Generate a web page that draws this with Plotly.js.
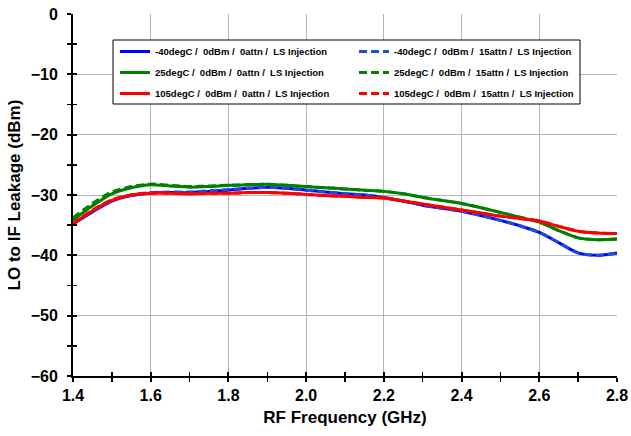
<!DOCTYPE html>
<html><head><meta charset="utf-8">
<script src="https://cdn.plot.ly/plotly-3.0.1.min.js"></script>
<style>html,body{margin:0;padding:0;background:#fff}#chart{width:631px;height:436px}</style>
</head><body><div id="chart"></div>
<script>
const freq = [1.40,1.45,1.50,1.55,1.60,1.65,1.70,1.75,1.80,1.85,1.90,1.95,2.00,2.05,2.10,2.15,2.20,2.25,2.30,2.35,2.40,2.45,2.50,2.55,2.60,2.65,2.70,2.75,2.80];
const blue0  = [-34.8,-32.8,-31.0,-30.1,-29.7,-29.6,-29.6,-29.4,-29.2,-28.9,-28.7,-28.9,-29.2,-29.5,-29.8,-30.0,-30.4,-31.0,-31.7,-32.2,-32.7,-33.4,-34.2,-35.1,-36.2,-37.9,-39.6,-40.0,-39.6];
const blue15 = [-34.7,-32.7,-30.9,-30.0,-29.6,-29.5,-29.5,-29.3,-29.1,-28.9,-28.7,-28.9,-29.2,-29.5,-29.8,-30.0,-30.4,-31.0,-31.7,-32.2,-32.7,-33.4,-34.2,-35.1,-36.2,-37.9,-39.6,-40.0,-39.6];
const green0  = [-34.2,-31.8,-29.8,-28.8,-28.3,-28.5,-28.7,-28.6,-28.4,-28.3,-28.2,-28.4,-28.6,-28.8,-29.0,-29.2,-29.4,-29.8,-30.4,-30.9,-31.4,-32.1,-32.9,-33.7,-34.5,-35.9,-37.1,-37.4,-37.3];
const green15 = [-33.8,-31.4,-29.5,-28.6,-28.2,-28.4,-28.6,-28.5,-28.4,-28.3,-28.2,-28.4,-28.6,-28.8,-29.0,-29.2,-29.4,-29.8,-30.4,-30.9,-31.4,-32.1,-32.9,-33.7,-34.5,-35.9,-37.1,-37.4,-37.3];
const red0  = [-34.8,-32.6,-30.9,-30.0,-29.7,-29.7,-29.8,-29.7,-29.7,-29.6,-29.6,-29.7,-29.9,-30.1,-30.2,-30.4,-30.5,-31.0,-31.5,-32.0,-32.5,-33.0,-33.5,-33.9,-34.3,-35.2,-36.0,-36.3,-36.4];
const red15 = [-34.7,-32.5,-30.8,-30.0,-29.7,-29.7,-29.8,-29.7,-29.7,-29.6,-29.6,-29.7,-29.9,-30.1,-30.2,-30.4,-30.5,-31.0,-31.5,-32.0,-32.5,-33.0,-33.5,-33.9,-34.3,-35.2,-36.0,-36.3,-36.4];
const names = [
  "-40degC /\u00a0 0dBm /\u00a0 0attn /\u00a0 LS Injection",
  "-40degC /\u00a0 0dBm /\u00a0 15attn /\u00a0 LS Injection",
  "25degC /\u00a0 0dBm /\u00a0 0attn /\u00a0 LS Injection",
  "25degC /\u00a0 0dBm /\u00a0 15attn /\u00a0 LS Injection",
  "105degC /\u00a0 0dBm /\u00a0 0attn /\u00a0 LS Injection",
  "105degC /\u00a0 0dBm /\u00a0 15attn /\u00a0 LS Injection"
];
const series = [blue0, blue15, green0, green15, red0, red15];
const colors = ["#0000ff","#1a4fd8","#008000","#008000","#ff0000","#ff0000"];
const dashes = ["solid","8px,4px","solid","8px,4px","solid","8px,4px"];
const legendOf = ["legend","legend2","legend","legend2","legend","legend2"];
const xTickVals = [1.4,1.6,1.8,2.0,2.2,2.4,2.6,2.8];
const yTickVals = [0,-10,-20,-30,-40,-50,-60];

const traces = series.map((s,i)=>({
  x: freq, y: s, name: names[i], type: 'scatter', mode: 'lines',
  legend: legendOf[i], legendgroup: 'g'+i,
  line: {color: colors[i], width: 3, dash: dashes[i], shape: 'spline', smoothing: 0.8}
}));
// invisible companion trace so the overlay axes (inner half of the crossing ticks) are drawn
traces.push({x: freq, y: blue0, xaxis:'x2', yaxis:'y2', mode:'lines', line:{width:0, color:'rgba(0,0,0,0)'}, showlegend:false, hoverinfo:'skip'});

const F = "Liberation Sans, Arial, sans-serif";
const legFont = {family: F, size: 9.5, weight: 'bold', color: '#000'};
const layout = {
  width: 631, height: 436,
  margin: {l: 73, r: 14, t: 14, b: 60},
  paper_bgcolor: '#fff', plot_bgcolor: '#fff',
  font: {family: F, color: '#000', weight: 'bold'},
  showlegend: true,
  legend: {x: (115-73)/544, y: 1-(37-14)/362, xanchor: 'left', yanchor: 'top',
    bgcolor: 'rgba(0,0,0,0)', borderwidth: 0, traceorder: 'grouped', tracegroupgap: 2, font: legFont},
  legend2: {x: (354-73)/544, y: 1-(37-14)/362, xanchor: 'left', yanchor: 'top',
    bgcolor: 'rgba(0,0,0,0)', borderwidth: 0, traceorder: 'grouped', tracegroupgap: 2, font: legFont},
  shapes: [{type: 'rect', xref: 'paper', yref: 'paper', layer: 'above',
    x0: (113-73)/544, x1: (580-73)/544, y0: 1-(104-14)/362, y1: 1-(40-14)/362,
    fillcolor: '#fff', line: {color: '#000', width: 1}}],
  xaxis: {
    range: [1.4, 2.8], tickvals: xTickVals, ticktext: xTickVals.map(v=>v.toFixed(1)),
    showgrid: true, gridcolor: '#b4b4b4', gridwidth: 1,
    showline: true, linecolor: '#000', linewidth: 2,
    ticks: 'outside', ticklen: 4, tickwidth: 2, tickcolor: '#000',
    minor: {dtick: 0.1, tick0: 1.4, ticks: 'outside', ticklen: 4, tickwidth: 1.5, tickcolor: '#000', showgrid: false},
    tickfont: {family: F, size: 16, weight: 'bold'},
    title: {text: 'RF Frequency (GHz)', font: {family: F, size: 17, weight: 'bold'}, standoff: 8},
    zeroline: false
  },
  yaxis: {
    range: [-60, 0], tickvals: yTickVals,
    showgrid: true, gridcolor: '#b4b4b4', gridwidth: 1,
    showline: true, linecolor: '#000', linewidth: 2,
    ticks: 'outside', ticklen: 4, tickwidth: 2, tickcolor: '#000',
    minor: {dtick: 5, tick0: 0, ticks: 'outside', ticklen: 4, tickwidth: 1.5, tickcolor: '#000', showgrid: false},
    tickfont: {family: F, size: 16, weight: 'bold'}, ticklabelstandoff: 6,
    title: {text: 'LO to IF Leakage (dBm)', font: {family: F, size: 17, weight: 'bold'}, standoff: 6},
    zeroline: false
  },
  xaxis2: {overlaying: 'x', anchor: 'y', side: 'bottom', range: [1.4, 2.8], tickvals: xTickVals,
    showticklabels: false, showgrid: false, zeroline: false,
    ticks: 'inside', ticklen: 4, tickwidth: 2, tickcolor: '#000',
    minor: {dtick: 0.1, tick0: 1.4, ticks: 'inside', ticklen: 4, tickwidth: 1.5, tickcolor: '#000', showgrid: false}},
  yaxis2: {overlaying: 'y', anchor: 'x', side: 'left', range: [-60, 0], tickvals: yTickVals,
    showticklabels: false, showgrid: false, zeroline: false,
    ticks: 'inside', ticklen: 4, tickwidth: 2, tickcolor: '#000',
    minor: {dtick: 5, tick0: 0, ticks: 'inside', ticklen: 4, tickwidth: 1.5, tickcolor: '#000', showgrid: false}}
};
Plotly.newPlot('chart', traces, layout, {displayModeBar: false, staticPlot: true});
</script></body></html>
